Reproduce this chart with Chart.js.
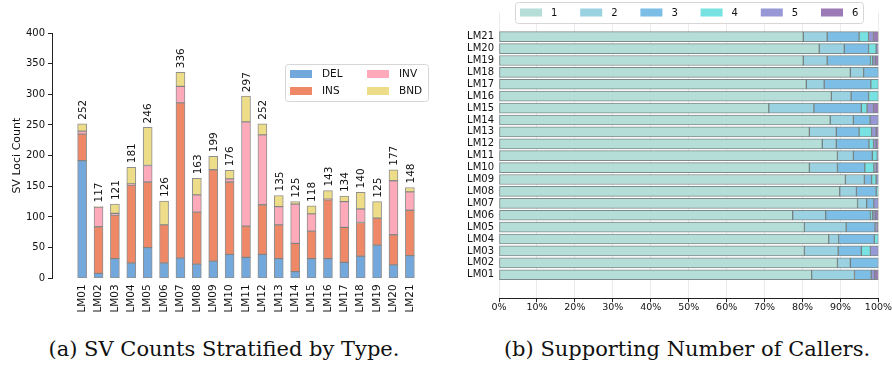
<!DOCTYPE html>
<html>
<head>
<meta charset="utf-8">
<script src="https://cdn.jsdelivr.net/npm/chart.js@4.4.1/dist/chart.umd.min.js"></script>
<style>
  html, body { margin: 0; padding: 0; background: #fff; }
  #wrap { position: relative; width: 892px; height: 367px; overflow: hidden; }
  #left { position: absolute; left: 0; top: 0; }
  #right { position: absolute; left: 460px; top: 0; }
  .caption { position: absolute; top: 339px; font-family: "DejaVu Serif", "Liberation Serif", serif;
             font-size: 21px; line-height: 21px; color: #111; text-align: center; white-space: nowrap; }
</style>
</head>
<body>
<div id="wrap">
  <canvas id="left" width="460" height="330"></canvas>
  <canvas id="right" width="432" height="330"></canvas>
  <div class="caption" style="left:0;width:448px;">(a) SV Counts Stratified by Type.</div>
  <div class="caption" style="left:462px;width:450px;">(b) Supporting Number of Callers.</div>
</div>
<script>
// Samples shared by both panels
const categories = ['LM01','LM02','LM03','LM04','LM05','LM06','LM07','LM08','LM09','LM10','LM11',
                    'LM12','LM13','LM14','LM15','LM16','LM17','LM18','LM19','LM20','LM21'];

// (a) SV loci counts per type
const svTypes   = ['DEL', 'INS', 'INV', 'BND'];
const delCounts = [192,  8, 32,  25,  50, 25,  33, 23,  28,  39,  34,  39, 32, 11, 32, 32, 26, 36, 54, 22, 37];
const insCounts = [ 43, 76, 71, 127, 107, 62, 253, 85, 149, 118,  51,  81, 55, 46, 45, 96, 57, 55, 44, 49, 74];
const invCounts = [  5, 32,  3,   2,  27,  0,  27, 28,   0,   5, 170, 114, 30, 64, 28,  1, 42, 22,  0, 88, 30];
const bndCounts = [ 12,  1, 15,  27,  62, 39,  23, 27,  22,  14,  42,  18, 18,  4, 13, 14,  9, 27, 27, 18,  7];
const countTicks = [0, 50, 100, 150, 200, 250, 300, 350, 400];

// (b) share of loci (%) by number of supporting callers
const callerLabels = ['1', '2', '3', '4', '5', '6'];
const callers1 = [82.4,89.2,80.5,86.9,80.5,77.4,94.5,89.8,91.3,81.8,89.2,85.2,81.8,87.3,71.1,87.6,81.0,92.6,80.2,84.4,80.2];
const callers2 = [11.3, 3.4, 8.9, 2.6,11.0, 8.7, 2.4, 4.4, 5.0, 7.4, 4.2, 3.7, 7.1, 6.1,11.9, 5.2, 4.7, 3.5, 6.3, 6.6, 6.3];
const callers3 = [ 4.4, 7.4, 6.1, 9.4, 7.6,11.8, 1.9, 5.2, 1.9, 7.2, 5.0, 8.6, 6.0, 4.4,12.5, 4.6,12.3, 3.9,11.4, 6.4, 8.4];
const callers4 = [ 0.0, 0.0, 2.4, 1.1, 0.0, 0.6, 0.0, 0.6, 1.2, 2.4, 1.3, 1.2, 3.3, 0.0, 1.5, 2.6, 2.0, 0.0, 0.6, 2.0, 2.5];
const callers5 = [ 0.9, 0.0, 2.1, 0.0, 0.6, 0.7, 1.2, 0.0, 0.6, 0.6, 0.3, 0.7, 1.2, 2.2, 1.7, 0.0, 0.0, 0.0, 0.7, 0.6, 1.3];
const callers6 = [ 1.0, 0.0, 0.0, 0.0, 0.3, 0.8, 0.0, 0.0, 0.0, 0.6, 0.0, 0.6, 0.6, 0.0, 1.3, 0.0, 0.0, 0.0, 0.8, 0.0, 1.3];
const percentTicks = [0, 10, 20, 30, 40, 50, 60, 70, 80, 90, 100];

const typeSeries   = [delCounts, insCounts, invCounts, bndCounts];
const callerSeries = [callers1, callers2, callers3, callers4, callers5, callers6];

const typeColors   = ['#73a8dc', '#ee8866', '#ffaabb', '#eedd88'];
const callerColors = ['#b4ded7', '#9bd2e1', '#7dbee6', '#78e1e1', '#9898d6', '#9b7ab6'];

const FONT = '"DejaVu Sans", sans-serif';

function roundRect(ctx, x, y, w, h, r) {
  ctx.beginPath();
  ctx.moveTo(x + r, y);
  ctx.lineTo(x + w - r, y);
  ctx.quadraticCurveTo(x + w, y, x + w, y + r);
  ctx.lineTo(x + w, y + h - r);
  ctx.quadraticCurveTo(x + w, y + h, x + w - r, y + h);
  ctx.lineTo(x + r, y + h);
  ctx.quadraticCurveTo(x, y + h, x, y + h - r);
  ctx.lineTo(x, y + r);
  ctx.quadraticCurveTo(x, y, x + r, y);
  ctx.closePath();
}

// Totals above the bars, the y-axis title and the in-plot legend of panel (a)
const countDecor = {
  id: 'countDecor',
  afterDatasetsDraw(chart) {
    const ctx = chart.ctx;
    const xs = chart.scales.x, ys = chart.scales.y;
    ctx.save();
    ctx.fillStyle = '#111';
    ctx.font = '10.5px ' + FONT;
    ctx.textAlign = 'left';
    ctx.textBaseline = 'middle';
    categories.forEach((c, i) => {
      const total = typeSeries.reduce((s, arr) => s + arr[i], 0);
      const px = xs.getPixelForValue(i) + 1;
      const py = ys.getPixelForValue(total) - 4;
      ctx.save();
      ctx.translate(px, py);
      ctx.rotate(-Math.PI / 2);
      ctx.fillText(String(total), 0, 0);
      ctx.restore();
    });

    // axis title
    ctx.save();
    ctx.font = '11px ' + FONT;
    ctx.textAlign = 'center';
    ctx.textBaseline = 'middle';
    ctx.translate(17, (ys.top + ys.bottom) / 2);
    ctx.rotate(-Math.PI / 2);
    ctx.fillText('SV Loci Count', 0, 0);
    ctx.restore();

    // legend
    const bx = 285, by = 64, bw = 143, bh = 37;
    ctx.fillStyle = 'rgba(255,255,255,0.85)';
    roundRect(ctx, bx + 0.5, by + 0.5, bw, bh, 3);
    ctx.fill();
    ctx.strokeStyle = '#d6d6d6';
    ctx.lineWidth = 1;
    ctx.stroke();
    ctx.font = '10.5px ' + FONT;
    ctx.textAlign = 'left';
    ctx.textBaseline = 'middle';
    svTypes.forEach((name, k) => {
      const col = Math.floor(k / 2), row = k % 2;
      const sx = bx + 5 + col * 77;
      const sy = by + 10 + row * 17;
      ctx.fillStyle = typeColors[k];
      ctx.fillRect(sx, sy - 4, 22, 8);
      ctx.fillStyle = '#111';
      ctx.fillText(name, sx + 32, sy + 0.5);
    });
    ctx.restore();
  }
};

new Chart(document.getElementById('left'), {
  type: 'bar',
  data: {
    datasets: typeSeries.map((arr, k) => ({
      label: svTypes[k],
      data: arr.map((v, i) => ({ x: i, y: v })),
      backgroundColor: typeColors[k]
    }))
  },
  options: {
    responsive: false,
    animation: false,
    devicePixelRatio: 1,
    layout: { padding: { top: 33, right: 20, left: 0, bottom: 0 } },
    datasets: { bar: { barThickness: 9, borderWidth: 1, borderColor: 'rgba(115,115,115,0.8)', borderSkipped: false } },
    scales: {
      x: {
        type: 'linear', stacked: true, min: -1.275, max: 21.275,
        afterBuildTicks: s => { s.ticks = categories.map((c, i) => ({ value: i })); },
        afterFit: s => { s.height = 51.7; },
        ticks: { autoSkip: false, minRotation: 90, maxRotation: 90, padding: 6,
                 color: '#111', font: { family: FONT, size: 10.5 },
                 callback: v => categories[v] },
        grid: { display: false, drawTicks: false },
        border: { display: false }
      },
      y: {
        stacked: true, min: 0, max: 400,
        afterBuildTicks: s => { s.ticks = countTicks.map(v => ({ value: v })); },
        afterFit: s => { s.width = 52; },
        ticks: { padding: 3, color: '#111', font: { family: FONT, size: 10 } },
        grid: { drawOnChartArea: false, tickLength: 4, tickColor: '#222', tickWidth: 1 },
        border: { color: '#222', width: 1 }
      }
    },
    plugins: { legend: { display: false }, tooltip: { enabled: false } }
  },
  plugins: [countDecor]
});

// Legend strip across the top of panel (b)
const callerLegend = {
  id: 'callerLegend',
  afterDatasetsDraw(chart) {
    const ctx = chart.ctx;
    ctx.save();
    const bx = 55, by = 2, bw = 348, bh = 21;
    ctx.fillStyle = 'rgba(255,255,255,0.85)';
    roundRect(ctx, bx + 0.5, by + 0.5, bw, bh, 3);
    ctx.fill();
    ctx.strokeStyle = '#d6d6d6';
    ctx.lineWidth = 1;
    ctx.stroke();
    ctx.font = '10px ' + FONT;
    ctx.textAlign = 'left';
    ctx.textBaseline = 'middle';
    callerLabels.forEach((name, k) => {
      const sx = bx + 5 + k * 60.2;
      const sy = by + 10.5;
      ctx.fillStyle = callerColors[k];
      ctx.fillRect(sx, sy - 4, 22, 8);
      ctx.fillStyle = '#111';
      ctx.fillText(name, sx + 31, sy + 0.5);
    });
    ctx.restore();
  }
};

new Chart(document.getElementById('right'), {
  type: 'bar',
  data: {
    datasets: callerSeries.map((arr, k) => ({
      label: callerLabels[k],
      data: arr.map((v, i) => ({ x: v === 0 ? null : v, y: i })),
      backgroundColor: callerColors[k]
    }))
  },
  options: {
    indexAxis: 'y',
    responsive: false,
    animation: false,
    devicePixelRatio: 1,
    layout: { padding: { top: 12.7, right: 12, left: 0, bottom: 0 } },
    datasets: { bar: { barThickness: 10, borderWidth: 1, borderColor: 'rgba(95,110,110,0.8)', borderSkipped: false } },
    scales: {
      x: {
        type: 'linear', stacked: true, min: 0, max: 100,
        afterBuildTicks: s => { s.ticks = percentTicks.map(v => ({ value: v })); },
        afterFit: s => { s.height = 31.3; },
        ticks: { padding: 0, maxRotation: 0, color: '#111', font: { family: FONT, size: 9.5 },
                 callback: v => v + '%' },
        grid: { color: '#ebebeb', lineWidth: 1, tickLength: 3.5, tickColor: '#222' },
        border: { color: '#222', width: 1 }
      },
      y: {
        type: 'linear', stacked: true, min: -1.44, max: 21.44,
        afterBuildTicks: s => { s.ticks = categories.map((c, i) => ({ value: i })); },
        afterFit: s => { s.width = 39; },
        ticks: { autoSkip: false, padding: 5, color: '#111', font: { family: FONT, size: 10 },
                 callback: v => categories[v] },
        grid: { display: false, drawTicks: false },
        border: { display: false }
      }
    },
    plugins: { legend: { display: false }, tooltip: { enabled: false } }
  },
  plugins: [callerLegend]
});
</script>
</body>
</html>
